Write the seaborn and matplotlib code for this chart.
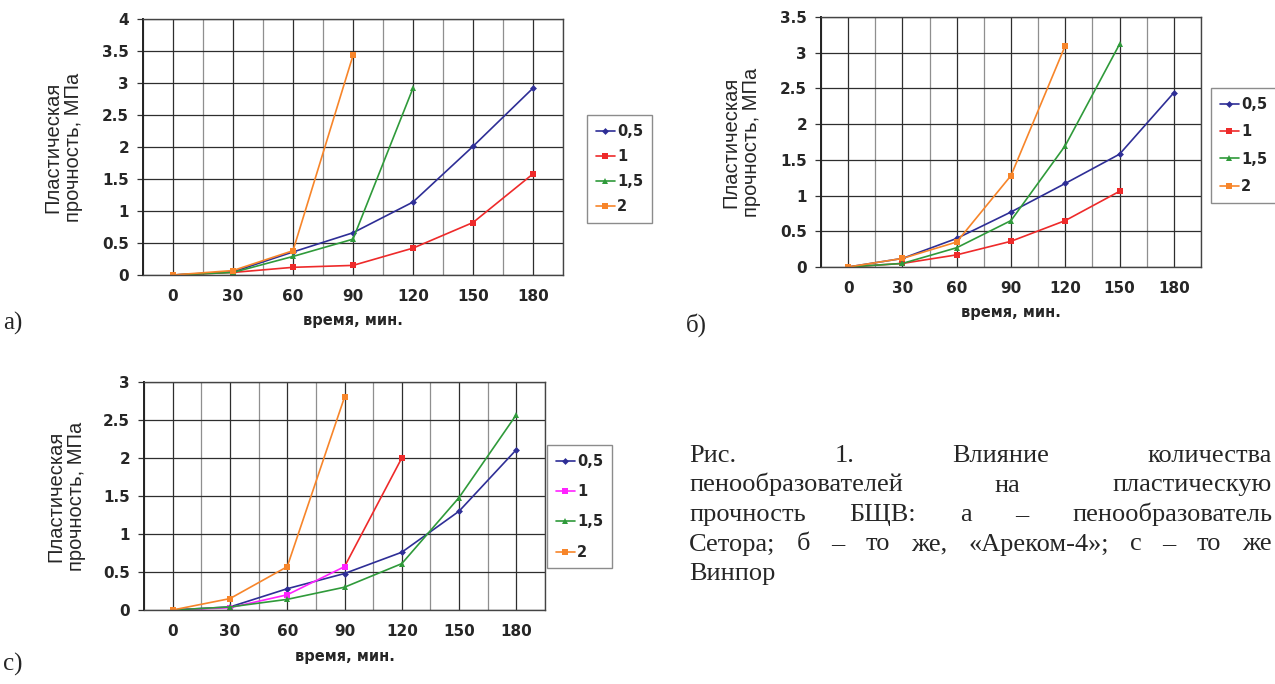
import numpy as np
import pandas as pd
import matplotlib
matplotlib.use("Agg")
import matplotlib.pyplot as plt
import seaborn as sns
from matplotlib.ticker import FuncFormatter

# time axis, minutes
times = [0, 30, 60, 90, 120, 150, 180]
series_names = ["0,5", "1", "1,5", "2"]

# а) пенообразователь Сетора
a_05 = [0, 0.05, 0.36, 0.66, 1.14, 2.01, 2.92]
a_1 = [0, 0.04, 0.12, 0.15, 0.42, 0.82, 1.58]
a_15 = [0, 0.04, 0.29, 0.56, 2.92]
a_2 = [0, 0.07, 0.38, 3.43]

# б) «Ареком-4»
b_05 = [0, 0.12, 0.40, 0.77, 1.17, 1.58, 2.44]
b_1 = [0, 0.05, 0.17, 0.36, 0.65, 1.06]
b_15 = [0, 0.05, 0.27, 0.65, 1.70, 3.12]
b_2 = [0, 0.12, 0.35, 1.28, 3.10]

# с) Винпор
c_05 = [0, 0.04, 0.28, 0.48, 0.76, 1.30, 2.11]
c_1 = [0, 0.03, 0.20, 0.57, 2.00]
c_15 = [0, 0.04, 0.14, 0.30, 0.61, 1.48, 2.57]
c_2 = [0, 0.15, 0.57, 2.80]
c_1_split = 4  # series "1" in panel c turns from magenta to red after 90 min

y_label = "Пластическая\nпрочность, МПа"
x_label = "время, мин."

caption = [
    ["Рис.", "1.", "Влияние", "количества"],
    ["пенообразователей", "на", "пластическую"],
    ["прочность", "БЩВ:", "а", "–", "пенообразователь"],
    ["Сетора;", "б", "–", "то", "же,", "«Ареком-4»;", "с", "–", "то", "же"],
    ["Винпор"],
]

colors = {"0,5": "#2e2e96", "1": "#ee2a2a", "1,5": "#2f9a3a", "2": "#f7852a"}
markers = {"0,5": "D", "1": "s", "1,5": "^", "2": "s"}
msizes = {"0,5": 3.5, "1": 4.5, "1,5": 5, "2": 5}

sns.set_style("white")
plt.rcParams["font.family"] = ["DejaVu Sans"]

W, H = 1275, 684
fig = plt.figure(figsize=(W / 100, H / 100), dpi=100)


def px_axes(x0, y0, x1, y1):
    return fig.add_axes([x0 / W, 1 - y1 / H, (x1 - x0) / W, (y1 - y0) / H])


def draw_panel(ax, values, ymax, cols, leg_xy, leg_space, ylab_off, xlab_off):
    box = ax.get_position()
    axw, axh = box.width * W, box.height * H
    for name, y in zip(series_names, values):
        sns.lineplot(x=times[:len(y)], y=y, ax=ax, color=cols[name], marker=markers[name],
                     markersize=msizes[name], markeredgewidth=0, linewidth=1.2, legend=False)
    ax.set_xlim(-15, 195)
    ax.set_ylim(0, ymax)
    ax.set_xticks(times)
    ax.set_xticks(np.arange(-15, 196, 30), minor=True)
    ax.set_yticks(np.arange(0, ymax + 0.01, 0.5))
    ax.yaxis.set_major_formatter(FuncFormatter(lambda v, p: f"{v:g}"))
    ax.set_axisbelow(True)
    ax.xaxis.grid(True, which="major", color="#2e2e2e", lw=0.9)
    ax.xaxis.grid(True, which="minor", color="#8f8f8f", lw=0.9)
    ax.yaxis.grid(True, which="major", color="#2e2e2e", lw=0.9)
    ax.tick_params(axis="x", which="major", length=0, pad=10, labelsize=11)
    ax.tick_params(axis="x", which="minor", length=5, width=0.9, color="#666666", direction="out")
    ax.tick_params(axis="y", length=4, width=0.9, color="#333333", direction="out", pad=6, labelsize=11, left=True)
    for lab in ax.get_xticklabels() + ax.get_yticklabels():
        lab.set_fontweight("bold")
    for s in ax.spines.values():
        s.set_color("#444444")
        s.set_linewidth(1.0)
    ax.spines["left"].set_color("#222222")
    ax.spines["left"].set_linewidth(1.4)

    ax.set_ylabel(y_label, family="Liberation Sans", fontsize=14.5, linespacing=1.1)
    ax.yaxis.label.set_va("center")
    ax.yaxis.set_label_coords(-ylab_off / axw, 0.5)
    ax.set_xlabel(x_label, fontweight="bold", fontsize=10.5)
    ax.xaxis.label.set_va("center")
    ax.xaxis.set_label_coords(0.5, -xlab_off / axh)

    handles = ax.get_lines()[-4:]
    ax.legend(handles, series_names, loc="upper left",
              bbox_to_anchor=(leg_xy[0] / W, 1 - leg_xy[1] / H), bbox_transform=fig.transFigure,
              frameon=True, fancybox=False, edgecolor="#8c8c8c", framealpha=1,
              handlelength=1.3, handletextpad=0.15, labelspacing=leg_space, borderpad=0.6,
              borderaxespad=0, prop=dict(family="DejaVu Sans", weight="bold", size=10.5))


ax_a = px_axes(143, 19, 563, 275)
draw_panel(ax_a, [a_05, a_1, a_15, a_2], 4, colors, (587, 115), 0.7, 80, 46)

ax_b = px_axes(821, 17, 1201, 267)
draw_panel(ax_b, [b_05, b_1, b_15, b_2], 3.5, colors, (1211, 88), 0.85, 80, 45)

# panel c: series "1" magenta up to 90 min, last segment red
ax_c = px_axes(144, 382, 545, 610)
sns.lineplot(x=times[c_1_split - 1:len(c_1)], y=c_1[c_1_split - 1:], ax=ax_c, color=colors["1"],
             marker="s", markersize=5, markeredgewidth=0, linewidth=1.2, legend=False)
cols_c = dict(colors, **{"1": "#ff22ff"})
draw_panel(ax_c, [c_05, c_1[:c_1_split], c_15, c_2], 3, cols_c, (547, 445), 1.05, 78, 47)

# panel letters
serif = "Liberation Serif"
fig.text(3 / W, 1 - 330 / H, "а)", family=serif, fontsize=18, va="baseline")
fig.text(686 / W, 1 - 332 / H, "б)", family=serif, fontsize=18, va="baseline")
fig.text(3 / W, 1 - 671 / H, "с)", family=serif, fontsize=18, va="baseline")

# caption: justified paragraph, last line left aligned
renderer = fig.canvas.get_renderer()
x_left, x_right = 689, 1272
for i, words in enumerate(caption):
    yb = 462 + i * 29.5
    texts = [fig.text(0, 1 - yb / H, w, family=serif, fontsize=19, va="baseline") for w in words]
    widths = [t.get_window_extent(renderer).width for t in texts]
    if len(words) > 1 and i < len(caption) - 1:
        gap = (x_right - x_left - sum(widths)) / (len(words) - 1)
    else:
        gap = 6
    x = x_left
    for t, wd in zip(texts, widths):
        t.set_x(x / W)
        x += wd + gap

fig.savefig("out.png", dpi=100)
